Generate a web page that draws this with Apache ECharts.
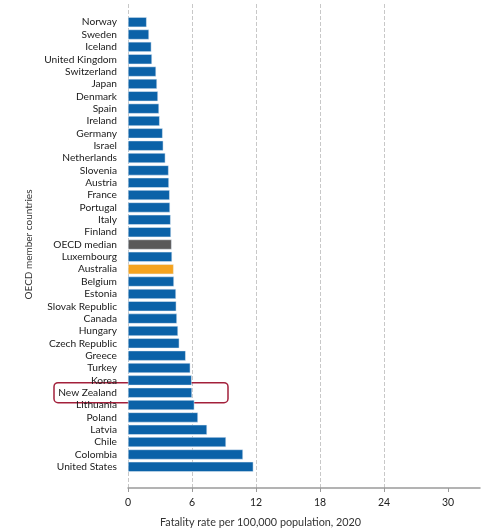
<!DOCTYPE html>
<html>
<head>
<meta charset="utf-8">
<script src="https://cdn.jsdelivr.net/npm/echarts@6/dist/echarts.min.js"></script>
<style>
  html, body { margin: 0; padding: 0; background: #fff; }
  #chart { width: 495px; height: 531px; }
</style>
</head>
<body>
<div id="chart"></div>
<script>
var countries = ['Norway', 'Sweden', 'Iceland', 'United Kingdom', 'Switzerland', 'Japan', 'Denmark',
    'Spain', 'Ireland', 'Germany', 'Israel', 'Netherlands', 'Slovenia', 'Austria', 'France', 'Portugal',
    'Italy', 'Finland', 'OECD median', 'Luxembourg', 'Australia', 'Belgium', 'Estonia', 'Slovak Republic',
    'Canada', 'Hungary', 'Czech Republic', 'Greece', 'Turkey', 'Korea', 'New Zealand', 'Lithuania',
    'Poland', 'Latvia', 'Chile', 'Colombia', 'United States'];
var fatalityRates = [1.75, 1.97, 2.19, 2.25, 2.63, 2.72, 2.81, 2.91, 2.97, 3.25, 3.31, 3.5, 3.81, 3.84,
    3.91, 3.94, 4.0, 4.03, 4.09, 4.13, 4.28, 4.31, 4.5, 4.53, 4.59, 4.69, 4.81, 5.41, 5.84, 5.97, 6.0,
    6.22, 6.56, 7.41, 9.19, 10.78, 11.75];
var xTicks = [0, 6, 12, 18, 24, 30];
var highlighted = 'New Zealand';

var fontFamily = 'Lato, "Open Sans", sans-serif';

function barColor(name) {
    if (name === 'OECD median') return '#595959';
    if (name === 'Australia') return '#f5a31f';
    return '#0b62a8';
}

var chart = echarts.init(document.getElementById('chart'));

var option = {
    animation: false,
    textStyle: { fontFamily: fontFamily },
    title: {
        text: 'Fatality rate per 100,000 population, 2020',
        left: 155,
        top: 512,
        textStyle: { fontSize: 10.8, fontWeight: 'normal', color: '#333', fontFamily: fontFamily }
    },
    grid: [
        // gridlines + value axis (taller than the bar area)
        { left: 128, right: 15, top: 4, bottom: 43 },
        // bars
        { left: 128, right: 15, top: 16, bottom: 58 }
    ],
    xAxis: [
        {
            gridIndex: 0,
            type: 'value',
            min: 0,
            max: 33,
            interval: 6,
            axisLine: { show: true, lineStyle: { color: '#9a9a9a', width: 1.5 } },
            axisTick: { show: true, length: 4, customValues: xTicks, lineStyle: { color: '#9a9a9a' } },
            splitLine: { show: true, showMaxLine: false, lineStyle: { type: 'dashed', color: '#c8c8c8' } },
            axisLabel: { customValues: xTicks, color: '#222', fontSize: 10.5, margin: 9 }
        },
        {
            gridIndex: 1,
            type: 'value',
            min: 0,
            max: 33,
            show: false
        }
    ],
    yAxis: [
        { gridIndex: 0, type: 'value', show: false },
        {
            gridIndex: 1,
            type: 'category',
            inverse: true,
            data: countries,
            axisLine: { show: false },
            axisTick: { show: false },
            axisLabel: { interval: 0, color: '#1a1a1a', fontSize: 10.2, margin: 11 },
            name: 'OECD member countries',
            nameLocation: 'middle',
            nameRotate: 90,
            nameGap: 92,
            nameTextStyle: { color: '#333', fontSize: 10 }
        }
    ],
    series: [{
        type: 'bar',
        xAxisIndex: 1,
        yAxisIndex: 1,
        barWidth: 10,
        data: fatalityRates.map(function (v, i) {
            return {
                value: v,
                itemStyle: { color: barColor(countries[i]), borderColor: '#e6eef6', borderWidth: 0.5 }
            };
        })
    }]
};

chart.setOption(option);

// red outline around the highlighted row
var rowY = chart.convertToPixel({ yAxisIndex: 1 }, highlighted);
chart.setOption({
    graphic: [{
        type: 'rect',
        shape: { x: 54, y: rowY - 10, width: 174, height: 20, r: 4 },
        style: { fill: 'none', stroke: '#a3203b', lineWidth: 1.5 }
    }]
});
</script>
</body>
</html>
